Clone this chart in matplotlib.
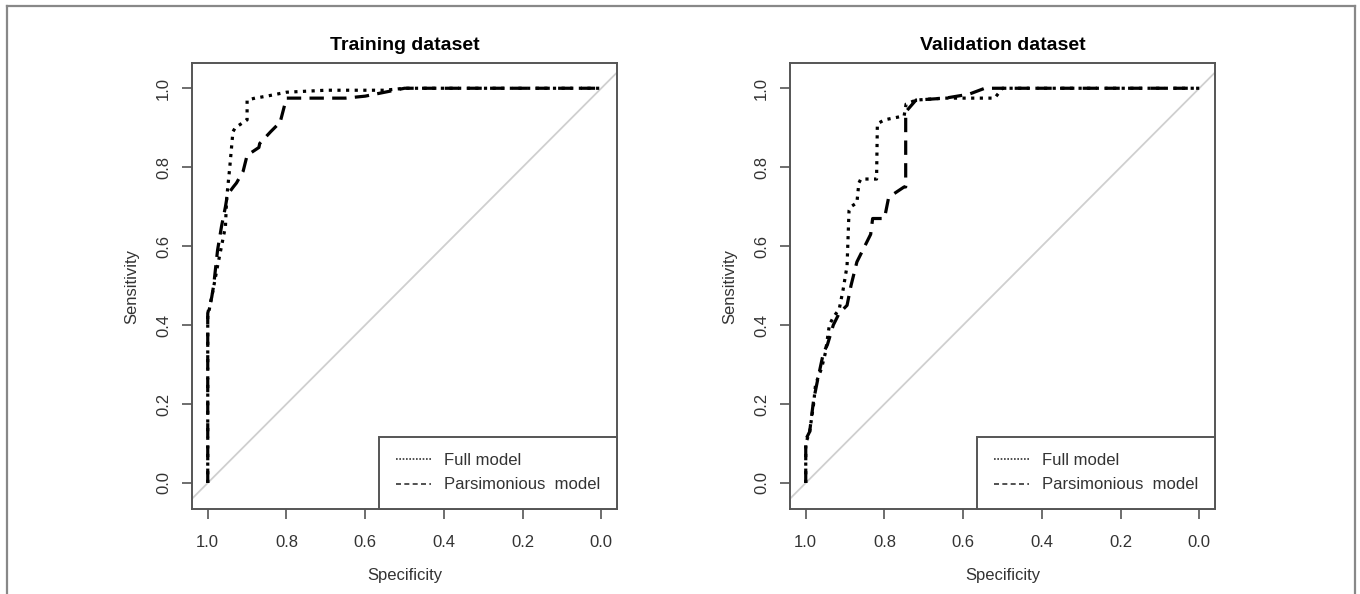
import matplotlib
matplotlib.use("Agg")
import matplotlib.pyplot as plt
from matplotlib.lines import Line2D

plt.rcParams['font.family'] = ['Liberation Sans', 'DejaVu Sans']

# === ROC curve points (specificity, sensitivity) ===
train_full_spec = [1.0, 1.0, 0.99, 0.975, 0.965, 0.955, 0.952, 0.944, 0.936, 0.93, 0.90, 0.90,
                   0.88, 0.85, 0.80, 0.70, 0.55, 0.50, 0.0]
train_full_sens = [0.0, 0.42, 0.47, 0.55, 0.60, 0.65, 0.72, 0.80, 0.89, 0.90, 0.92, 0.97,
                   0.975, 0.98, 0.99, 0.995, 0.995, 1.0, 1.0]

train_pars_spec = [1.0, 1.0, 0.99, 0.985, 0.975, 0.965, 0.955, 0.95, 0.935, 0.927, 0.91, 0.90,
                   0.87, 0.868, 0.84, 0.82, 0.817, 0.80, 0.79, 0.65, 0.60, 0.55, 0.50, 0.0]
train_pars_sens = [0.0, 0.43, 0.47, 0.50, 0.59, 0.65, 0.70, 0.73, 0.75, 0.76, 0.79, 0.83,
                   0.85, 0.86, 0.89, 0.91, 0.91, 0.975, 0.975, 0.975, 0.98, 0.99, 1.0, 1.0]

valid_full_spec = [1.0, 1.0, 0.99, 0.98, 0.975, 0.96, 0.95, 0.94, 0.93, 0.915, 0.905, 0.90,
                   0.895, 0.89, 0.885, 0.87, 0.865, 0.86, 0.82, 0.818, 0.80, 0.75, 0.745,
                   0.72, 0.65, 0.55, 0.52, 0.50, 0.0]
valid_full_sens = [0.0, 0.10, 0.13, 0.20, 0.25, 0.29, 0.33, 0.40, 0.42, 0.44, 0.49, 0.52,
                   0.55, 0.69, 0.70, 0.71, 0.76, 0.77, 0.77, 0.91, 0.92, 0.93, 0.96,
                   0.97, 0.975, 0.975, 0.975, 1.0, 1.0]

valid_pars_spec = [1.0, 1.0, 0.99, 0.98, 0.97, 0.955, 0.945, 0.93, 0.915, 0.905, 0.895, 0.885,
                   0.87, 0.855, 0.845, 0.835, 0.83, 0.80, 0.79, 0.78, 0.75, 0.746, 0.746,
                   0.72, 0.645, 0.585, 0.545, 0.0]
valid_pars_sens = [0.0, 0.11, 0.13, 0.21, 0.26, 0.33, 0.35, 0.40, 0.43, 0.44, 0.45, 0.50,
                   0.56, 0.59, 0.61, 0.63, 0.67, 0.67, 0.72, 0.73, 0.75, 0.75, 0.94,
                   0.97, 0.975, 0.985, 1.0, 1.0]

titles = ["Training dataset", "Validation dataset"]
tick_vals = [0.0, 0.2, 0.4, 0.6, 0.8, 1.0]
legend_labels = ["Full model", "Parsimonious  model"]

SPINE = "#555555"
DOTTED = (0, (1, 1.7))
DASHED = (0, (4.5, 2.6))

W, H = 1360, 594
fig = plt.figure(figsize=(W / 100, H / 100), dpi=100)

panels = [
    (192, titles[0], train_full_spec, train_full_sens, train_pars_spec, train_pars_sens),
    (790, titles[1], valid_full_spec, valid_full_sens, valid_pars_spec, valid_pars_sens),
]

for left_px, title, fs, fse, ps, pse in panels:
    ax = fig.add_axes([left_px / W, (H - 509) / H, 425 / W, (509 - 63) / H])
    ax.set_xlim(1.04, -0.04)
    ax.set_ylim(-0.066, 1.064)

    # chance line
    ax.axline((1, 0), (0, 1), color="#cfcfcf", lw=1.3, zorder=1)

    ax.plot(fs, fse, color="black", lw=2.3, linestyle=DOTTED, label=legend_labels[0], zorder=3)
    ax.plot(ps, pse, color="black", lw=2.3, linestyle=DASHED, label=legend_labels[1], zorder=3)

    ax.set_xticks(tick_vals)
    ax.set_xticklabels([f"{v:.1f}" for v in tick_vals])
    ax.set_yticks(tick_vals)
    ax.set_yticklabels([f"{v:.1f}" for v in tick_vals], rotation=90, va="center")
    ax.tick_params(direction="out", length=7, width=1.2, color=SPINE,
                   labelsize=12, labelcolor="#333333")
    ax.tick_params(axis="x", pad=12)
    ax.tick_params(axis="y", pad=8)
    for sp in ax.spines.values():
        sp.set_color(SPINE)
        sp.set_linewidth(1.4)

    ax.set_title(title, fontsize=14, fontweight="bold", pad=9)
    ax.set_xlabel("Specificity", fontsize=12, color="#333333", labelpad=13)
    ax.set_ylabel("Sensitivity", fontsize=12, color="#333333", labelpad=12)

    h = [Line2D([0], [0], color="#333333", lw=1.2, linestyle=(0, (1, 1))),
         Line2D([0], [0], color="#333333", lw=1.2, linestyle=(0, (3, 2)))]
    leg = ax.legend(h, legend_labels, loc="lower right", borderaxespad=0, fancybox=False,
                    framealpha=1, edgecolor=SPINE, fontsize=12, handlelength=2.1,
                    handletextpad=0.8, borderpad=1.0, labelspacing=0.55)
    leg.get_frame().set_linewidth(1.4)
    for t in leg.get_texts():
        t.set_color("#333333")

# outer frame of the figure panel
fig.add_artist(Line2D([7 / W, 7 / W], [0, 1 - 6 / H], color="#888888", lw=1.6))
fig.add_artist(Line2D([7 / W, 1355 / W], [1 - 6 / H, 1 - 6 / H], color="#888888", lw=1.6))
fig.add_artist(Line2D([1355 / W, 1355 / W], [0, 1 - 6 / H], color="#888888", lw=1.6))

fig.savefig("out.png", dpi=100)
